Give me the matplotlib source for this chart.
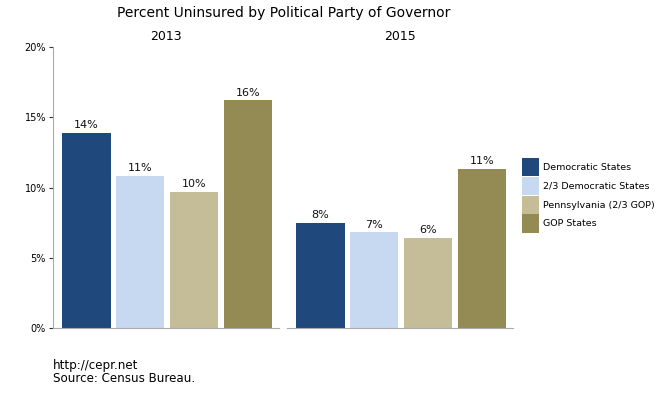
import matplotlib
matplotlib.use("Agg")
import matplotlib.pyplot as plt
from matplotlib.patches import Patch

years = ["2013", "2015"]
groups = ["Democratic States", "2/3 Democratic States", "Pennsylvania (2/3 GOP)", "GOP States"]
values_2013 = [13.9, 10.8, 9.7, 16.2]
values_2015 = [7.5, 6.8, 6.4, 11.3]
labels_2013 = ["14%", "11%", "10%", "16%"]
labels_2015 = ["8%", "7%", "6%", "11%"]
colors = ["#1f487c", "#c6d9f1", "#c4bd97", "#948a54"]
yticks = [0, 5, 10, 15, 20]
ytick_labels = ["0%", "5%", "10%", "15%", "20%"]

fig = plt.figure(figsize=(6.7, 4.0), dpi=100)
W, H = 670, 400
ax1 = fig.add_axes([53 / W, 1 - 328 / H, 226 / W, 281 / H])
ax2 = fig.add_axes([287 / W, 1 - 328 / H, 226 / W, 281 / H])

for ax, year, vals, labs in [(ax1, years[0], values_2013, labels_2013),
                             (ax2, years[1], values_2015, labels_2015)]:
    xs = list(range(len(vals)))
    bars = ax.bar(xs, vals, width=0.9, color=colors)
    for b, lab in zip(bars, labs):
        ax.text(b.get_x() + b.get_width() / 2, b.get_height() + 0.2, lab,
                ha="center", va="bottom", fontsize=8, color="#111111")
    ax.set_ylim(0, 20)
    ax.set_xlim(-0.62, 3.58)
    ax.set_xticks([])
    for s in ["top", "right"]:
        ax.spines[s].set_visible(False)
    ax.spines["bottom"].set_color("#aaaaaa")
    ax.spines["left"].set_color("#aaaaaa")
    ax.text(0.5, 1 + 11 / 281, year, transform=ax.transAxes, ha="center",
            va="center", fontsize=9)

ax1.set_yticks(yticks)
ax1.set_yticklabels(ytick_labels, fontsize=7)
ax1.tick_params(axis="y", length=3, color="#333333", pad=2)
ax2.set_yticks([])
ax2.spines["left"].set_visible(False)

fig.text(284 / W, 1 - 13 / H, "Percent Uninsured by Political Party of Governor",
         ha="center", va="center", fontsize=10)

handles = [Patch(facecolor=c, label=g) for c, g in zip(colors, groups)]
fig.legend(handles=handles, loc="upper left", bbox_to_anchor=(520 / W, 1 - 156 / H),
           frameon=False, fontsize=6.8, handlelength=1.85, handleheight=2.6,
           handletextpad=0.4, labelspacing=0.06, borderaxespad=0, borderpad=0.2)

fig.text(53 / W, 1 - 366 / H, "http://cepr.net", fontsize=8.6, va="center")
fig.text(53 / W, 1 - 379 / H, "Source: Census Bureau.", fontsize=8.6, va="center")

fig.savefig("out.png", dpi=100)
